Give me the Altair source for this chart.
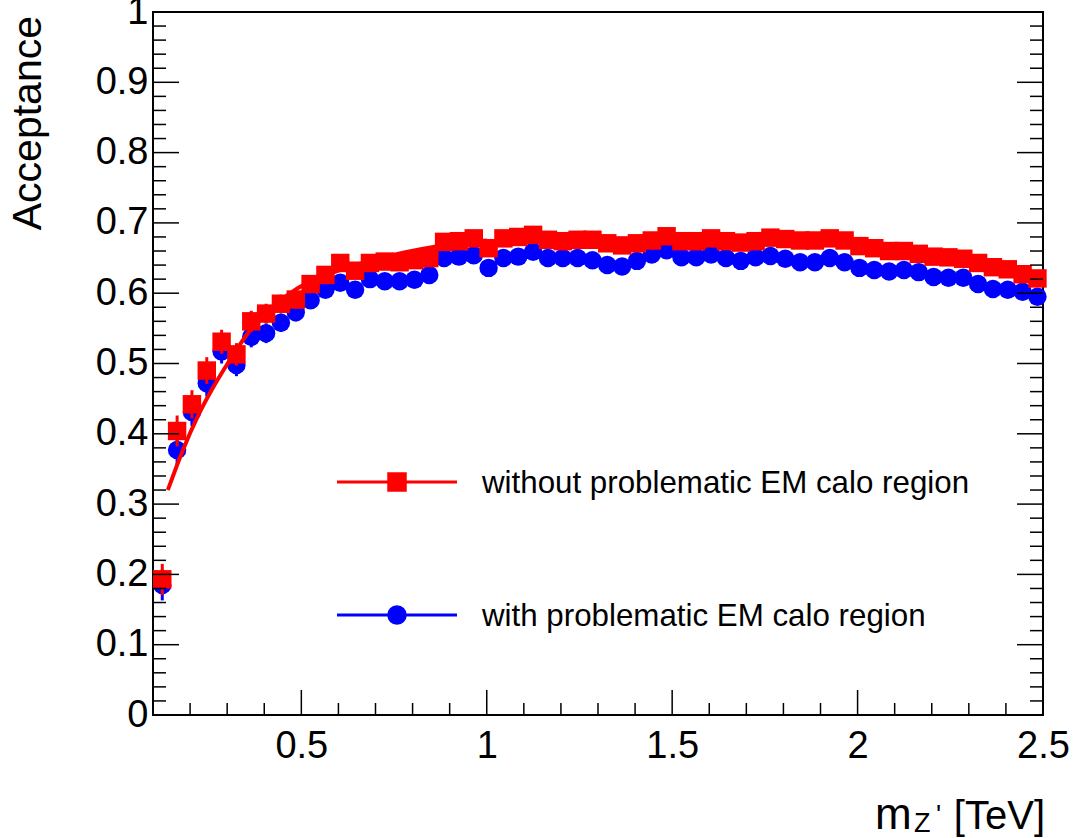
import altair as alt
import pandas as pd

# ---------------- data ----------------
mass = [0.125, 0.165, 0.205, 0.245, 0.285, 0.325, 0.365, 0.405, 0.445, 0.485,
        0.525, 0.565, 0.605, 0.645, 0.685, 0.725, 0.765, 0.805, 0.845, 0.885,
        0.925, 0.965, 1.005, 1.045, 1.085, 1.125, 1.165, 1.205, 1.245, 1.285,
        1.325, 1.365, 1.405, 1.445, 1.485, 1.525, 1.565, 1.605, 1.645, 1.685,
        1.725, 1.765, 1.805, 1.845, 1.885, 1.925, 1.965, 2.005, 2.045, 2.085,
        2.125, 2.165, 2.205, 2.245, 2.285, 2.325, 2.365, 2.405, 2.445, 2.485]

acc_without = [0.193, 0.404, 0.442, 0.490, 0.531, 0.513, 0.560, 0.571, 0.585, 0.591,
               0.613, 0.626, 0.643, 0.632, 0.643, 0.645, 0.644, 0.647, 0.650, 0.673,
               0.674, 0.678, 0.664, 0.678, 0.680, 0.683, 0.676, 0.674, 0.676, 0.676,
               0.671, 0.668, 0.671, 0.675, 0.681, 0.674, 0.674, 0.678, 0.674, 0.672,
               0.674, 0.679, 0.677, 0.675, 0.675, 0.678, 0.675, 0.667, 0.664, 0.660,
               0.660, 0.656, 0.652, 0.651, 0.649, 0.643, 0.637, 0.634, 0.627, 0.621]

err_without = [0.022, 0.022, 0.020, 0.019, 0.017, 0.016, 0.015, 0.014, 0.013, 0.013,
               0.012, 0.012, 0.012, 0.012, 0.011, 0.011, 0.011, 0.011, 0.011, 0.011,
               0.011, 0.011, 0.011, 0.011, 0.011, 0.011, 0.011, 0.011, 0.011, 0.011,
               0.011, 0.011, 0.011, 0.011, 0.011, 0.011, 0.011, 0.011, 0.011, 0.011,
               0.011, 0.011, 0.011, 0.011, 0.011, 0.011, 0.011, 0.011, 0.011, 0.011,
               0.011, 0.011, 0.011, 0.011, 0.011, 0.011, 0.011, 0.011, 0.011, 0.011]

acc_with = [0.185, 0.377, 0.431, 0.472, 0.517, 0.498, 0.538, 0.543, 0.558, 0.573,
            0.590, 0.605, 0.615, 0.605, 0.620, 0.617, 0.617, 0.619, 0.626, 0.650,
            0.652, 0.654, 0.636, 0.650, 0.652, 0.659, 0.650, 0.650, 0.650, 0.647,
            0.640, 0.638, 0.646, 0.655, 0.661, 0.651, 0.651, 0.655, 0.650, 0.646,
            0.651, 0.653, 0.649, 0.644, 0.644, 0.650, 0.644, 0.636, 0.633, 0.631,
            0.633, 0.630, 0.623, 0.622, 0.622, 0.613, 0.606, 0.605, 0.602, 0.595]

err_with = [0.022, 0.022, 0.020, 0.019, 0.017, 0.016, 0.015, 0.014, 0.013, 0.013,
            0.012, 0.012, 0.012, 0.012, 0.011, 0.011, 0.011, 0.011, 0.011, 0.011,
            0.011, 0.011, 0.011, 0.011, 0.011, 0.011, 0.011, 0.011, 0.011, 0.011,
            0.011, 0.011, 0.011, 0.011, 0.011, 0.011, 0.011, 0.011, 0.011, 0.011,
            0.011, 0.011, 0.011, 0.011, 0.011, 0.011, 0.011, 0.011, 0.011, 0.011,
            0.011, 0.011, 0.011, 0.011, 0.011, 0.011, 0.011, 0.011, 0.011, 0.011]

fit_mass = [0.14, 0.18, 0.22, 0.26, 0.30, 0.36, 0.42, 0.49, 0.60, 0.70, 0.86, 1.00]
fit_acc = [0.320, 0.376, 0.424, 0.464, 0.499, 0.546, 0.579, 0.607, 0.632, 0.648, 0.666, 0.675]

x_major = [0.5, 1.0, 1.5, 2.0, 2.5]
x_minor = [0.2, 0.3, 0.4, 0.6, 0.7, 0.8, 0.9, 1.1, 1.2, 1.3, 1.4, 1.6, 1.7, 1.8, 1.9,
           2.1, 2.2, 2.3, 2.4]
y_major = [0.0, 0.1, 0.2, 0.3, 0.4, 0.5, 0.6, 0.7, 0.8, 0.9, 1.0]
y_minor = [0.02, 0.04, 0.06, 0.08, 0.12, 0.14, 0.16, 0.18, 0.22, 0.24, 0.26, 0.28,
           0.32, 0.34, 0.36, 0.38, 0.42, 0.44, 0.46, 0.48, 0.52, 0.54, 0.56, 0.58,
           0.62, 0.64, 0.66, 0.68, 0.72, 0.74, 0.76, 0.78, 0.82, 0.84, 0.86, 0.88,
           0.92, 0.94, 0.96, 0.98]

label_without = "without problematic EM calo region"
label_with = "with problematic EM calo region"

# ---------------- layout ----------------
W, H = 890, 703
RED = "#ff0000"
BLUE = "#0000ff"
FONT = "Liberation Sans"

xs = alt.Scale(domain=[0.1, 2.5], nice=False, zero=False)
ys = alt.Scale(domain=[0.0, 1.0], nice=False, zero=False)
xax = alt.Axis(values=x_major, format="~g", title=None)
yax = alt.Axis(values=y_major, format="~g", title=None)

df_without = pd.DataFrame({"m": mass, "a": acc_without, "e": err_without})
df_with = pd.DataFrame({"m": mass, "a": acc_with, "e": err_with})
df_fit = pd.DataFrame({"m": fit_mass, "a": fit_acc})
one = pd.DataFrame({"k": [0]})


def X(field="m"):
    return alt.X(f"{field}:Q", scale=xs, axis=xax)


def Y(field="a"):
    return alt.Y(f"{field}:Q", scale=ys, axis=yax)


def errbars(df, color):
    return alt.Chart(df).transform_calculate(
        lo="datum.a - datum.e", hi="datum.a + datum.e"
    ).mark_rule(color=color, strokeWidth=3).encode(
        x=X(), y=alt.Y("lo:Q", scale=ys, axis=yax), y2="hi:Q"
    )


blue_err = errbars(df_with, BLUE)
blue_pts = alt.Chart(df_with).mark_point(
    shape="circle", filled=True, size=340, color=BLUE, opacity=1
).encode(x=X(), y=Y())
red_err = errbars(df_without, RED)
red_pts = alt.Chart(df_without).mark_point(
    shape="square", filled=True, size=340, color=RED, opacity=1
).encode(x=X(), y=Y())
red_fit = alt.Chart(df_fit).mark_line(
    color=RED, strokeWidth=4, interpolate="monotone"
).encode(x=X(), y=Y())

# inward ticks (ROOT style)
xt = pd.DataFrame({"v": x_major + x_minor,
                   "len": [25] * len(x_major) + [12] * len(x_minor)})
yt = pd.DataFrame({"v": y_major + y_minor,
                   "len": [26] * len(y_major) + [13] * len(y_minor)})

bottom_ticks = alt.Chart(xt).transform_calculate(
    y0=str(H), y1=f"{H} - datum.len"
).mark_rule(color="black", strokeWidth=1.5).encode(
    x=alt.X("v:Q", scale=xs, axis=xax),
    y=alt.Y("y0:Q", scale=None), y2="y1:Q")
left_ticks = alt.Chart(yt).transform_calculate(
    x0="0", x1="datum.len"
).mark_rule(color="black", strokeWidth=1.5).encode(
    y=alt.Y("v:Q", scale=ys, axis=yax),
    x=alt.X("x0:Q", scale=None), x2="x1:Q")
right_ticks = alt.Chart(yt).transform_calculate(
    x0=str(W), x1=f"{W} - datum.len"
).mark_rule(color="black", strokeWidth=1.5).encode(
    y=alt.Y("v:Q", scale=ys, axis=yax),
    x=alt.X("x0:Q", scale=None), x2="x1:Q")

# legend
LX0, LX1, LXM = 184, 304, 244
LY1, LY2 = 470, 603
leg_line_r = alt.Chart(one).mark_rule(color=RED, strokeWidth=3).encode(
    x=alt.value(LX0), x2=alt.value(LX1), y=alt.value(LY1))
leg_pt_r = alt.Chart(one).mark_point(shape="square", filled=True, size=380,
                                     color=RED, opacity=1).encode(
    x=alt.value(LXM), y=alt.value(LY1))
leg_txt_r = alt.Chart(one).mark_text(
    text=label_without, align="left", baseline="middle", font=FONT,
    fontSize=31.3, color="black").encode(x=alt.value(329), y=alt.value(LY1 + 2))
leg_line_b = alt.Chart(one).mark_rule(color=BLUE, strokeWidth=3).encode(
    x=alt.value(LX0), x2=alt.value(LX1), y=alt.value(LY2))
leg_pt_b = alt.Chart(one).mark_point(shape="circle", filled=True, size=380,
                                     color=BLUE, opacity=1).encode(
    x=alt.value(LXM), y=alt.value(LY2))
leg_txt_b = alt.Chart(one).mark_text(
    text=label_with, align="left", baseline="middle", font=FONT,
    fontSize=31.3, color="black").encode(x=alt.value(329), y=alt.value(LY2 + 2))

# axis titles
ytitle = alt.Chart(one).mark_text(
    text="Acceptance", angle=270, align="right", baseline="alphabetic",
    font=FONT, fontSize=41, color="black").encode(
    x=alt.value(-112), y=alt.value(4))
xt_m = alt.Chart(one).mark_text(
    text="m", align="left", baseline="alphabetic", font=FONT, fontSize=44,
    color="black").encode(x=alt.value(722), y=alt.value(817))
xt_z = alt.Chart(one).mark_text(
    text="Z", align="left", baseline="alphabetic", font=FONT, fontSize=27,
    color="black").encode(x=alt.value(761), y=alt.value(820))
xt_p = alt.Chart(one).mark_text(
    text="'", align="left", baseline="alphabetic", font=FONT, fontSize=27,
    color="black").encode(x=alt.value(783), y=alt.value(812))
xt_u = alt.Chart(one).mark_text(
    text="[TeV]", align="right", baseline="alphabetic", font=FONT, fontSize=40,
    color="black").encode(x=alt.value(892), y=alt.value(817))

chart = alt.layer(
    blue_err, blue_pts, red_err, red_pts, red_fit,
    bottom_ticks, left_ticks, right_ticks,
    leg_line_r, leg_pt_r, leg_txt_r, leg_line_b, leg_pt_b, leg_txt_b,
    ytitle, xt_m, xt_z, xt_p, xt_u,
).properties(
    width=W, height=H,
    padding={"left": 153, "top": 12, "right": 30, "bottom": 123},
    autosize=alt.AutoSizeParams(type="none"),
    background="white",
).configure_view(
    stroke="black", strokeWidth=2
).configure_axis(
    ticks=False, domain=False, grid=False,
    labelFont=FONT, labelFontSize=38, labelColor="black",
    labelFlush=False, labelOverlap=False,
).configure_axisX(
    labelPadding=12
).configure_axisY(
    labelPadding=5
)

chart.save("out.html", embed_options={"renderer": "svg", "actions": False})
